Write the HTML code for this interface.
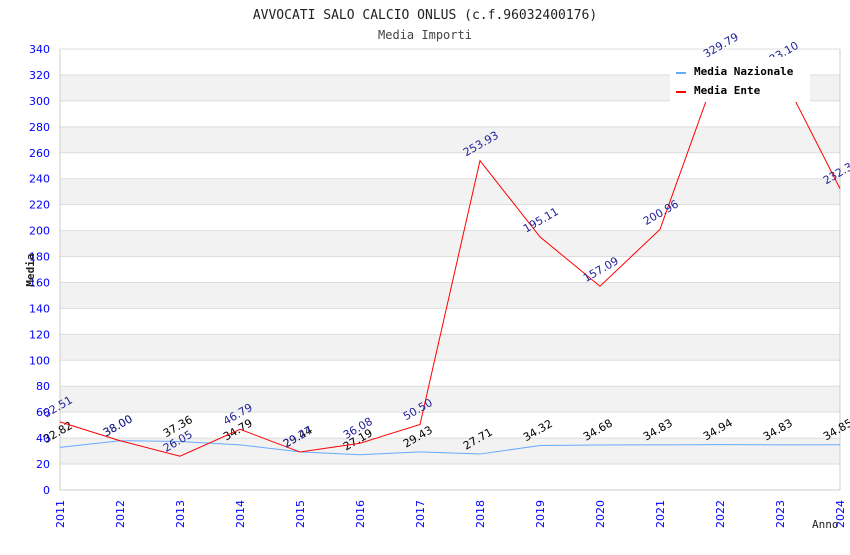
<!DOCTYPE html>
<html><head><meta charset="utf-8"><style>
body{margin:0;background:#fff}
text{font-family:"DejaVu Sans Mono","Liberation Mono",monospace}
text.sans{font-family:"DejaVu Sans","Liberation Sans",sans-serif}
</style></head><body>
<svg id="c" width="850" height="550" xmlns="http://www.w3.org/2000/svg">
<text x="425" y="19" text-anchor="middle" font-size="13" fill="#222">AVVOCATI SALO CALCIO ONLUS (c.f.96032400176)</text>
<text x="425" y="39" text-anchor="middle" font-size="12" fill="#444">Media Importi</text>
<g id="grid"></g><g id="axes"></g><g id="series"></g>
<text x="34" y="270" text-anchor="middle" font-size="11" font-weight="bold" fill="#222" transform="rotate(-90 34 270)">Media</text>
<text x="812" y="528" font-size="11" fill="#222">Anno</text>
<g id="legend">
<rect x="670" y="57" width="140" height="45" fill="#fff"/>
<line x1="676" y1="73" x2="686" y2="73" stroke="#6af" stroke-width="2"/>
<text x="694" y="75" font-size="11" font-weight="bold" fill="#000">Media Nazionale</text>
<line x1="676" y1="92" x2="686" y2="92" stroke="#f00" stroke-width="2"/>
<text x="694" y="94" font-size="11" font-weight="bold" fill="#000">Media Ente</text>
</g>
</svg>
<script>
const years=[2011,2012,2013,2014,2015,2016,2017,2018,2019,2020,2021,2022,2023,2024];
const nazionale=[32.82,38.00,37.36,34.79,29.44,27.19,29.43,27.71,34.32,34.68,34.83,34.94,34.83,34.85];
const ente=[52.51,38.00,26.05,46.79,29.27,36.08,50.50,253.93,195.11,157.09,200.96,329.79,323.10,232.36];
const yTicks=[0,20,40,60,80,100,120,140,160,180,200,220,240,260,280,300,320,340];
const NS="http://www.w3.org/2000/svg";
const X0=60,X1=840,Y0=490,Y1=49,YMAX=340;
const xs=i=>X0+(X1-X0)*i/(years.length-1);
const ys=v=>Y0-(Y0-Y1)*v/YMAX;
function mk(tag,attrs,parent,txt){const e=document.createElementNS(NS,tag);for(const k in attrs)e.setAttribute(k,attrs[k]);if(txt!==undefined)e.textContent=txt;parent.appendChild(e);return e;}
const grid=document.getElementById('grid'),axes=document.getElementById('axes'),ser=document.getElementById('series');
for(let i=0;i<yTicks.length-1;i++){
  if(i%2===1){const b=mk('rect',{x:X0,y:ys(yTicks[i+1]),width:X1-X0,height:ys(yTicks[i])-ys(yTicks[i+1]),fill:'#f2f2f2'},grid);
  
  }
}
yTicks.forEach(t=>{
  const l=mk('line',{x1:X0,x2:X1,y1:ys(t),y2:ys(t),stroke:'#ddd'},grid);
  
  
  const tx=mk('text',{class:'sans',x:X0-10,y:ys(t)+4,'text-anchor':'end','font-size':11,fill:'#00f'},axes,t);
  
  
});
mk('line',{x1:X0,x2:X0,y1:Y1,y2:Y0,stroke:'#ccc'},axes);
mk('line',{x1:X1,x2:X1,y1:Y1,y2:Y0,stroke:'#ccc'},axes);
mk('line',{x1:X0,x2:X1,y1:Y0,y2:Y0,stroke:'#ccc'},axes);
years.forEach((y,i)=>{
  const x=xs(i);
  const tx=mk('text',{class:'sans',x:x+4,y:528,'text-anchor':'start','font-size':11,fill:'#00f',transform:`rotate(-90 ${x+4} 528)`},axes,y);
  
  
});
function series(vals,color,lblColor,name){
  const p=mk('polyline',{points:vals.map((v,i)=>xs(i)+','+ys(v)).join(' '),fill:'none',stroke:color,'stroke-width':1},ser);
  
  
  vals.forEach((v,i)=>{
    const x=xs(i)-14,y=ys(v)-4;
    const t=mk('text',{class:'sans',x:x,y:y,'font-size':11,fill:lblColor,transform:`rotate(-30 ${x} ${y})`},ser,v.toFixed(2));
    
    
  });
}
series(nazionale,'#6af','#000','nazionale');
series(ente,'#f00','#229','ente');
document.getElementById('c').appendChild(document.getElementById('legend'));
</script>
</body></html>
